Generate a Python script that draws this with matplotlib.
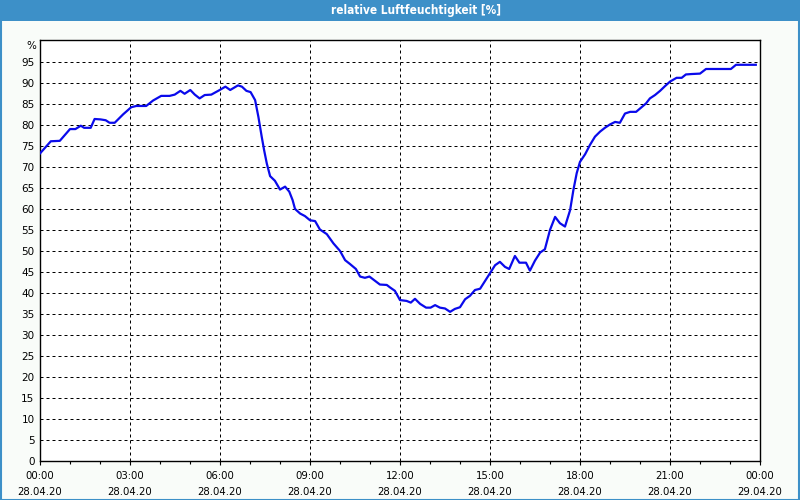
import matplotlib
matplotlib.use("Agg")
import matplotlib.pyplot as plt
from matplotlib.patches import Rectangle
from matplotlib.ticker import MultipleLocator

title = "relative Luftfeuchtigkeit [%]"
unit = "%"

hours = [0.0, 0.36, 0.66, 1.0, 1.18, 1.36, 1.47, 1.69, 1.82, 2.02, 2.19, 2.32, 2.49, 2.77,
         3.04, 3.21, 3.54, 3.77, 4.04, 4.32, 4.49, 4.68, 4.82, 5.01, 5.16, 5.32, 5.49, 5.71,
         5.99, 6.18, 6.34, 6.6, 6.73, 6.88, 7.02, 7.17, 7.28, 7.39, 7.47, 7.56, 7.67, 7.83,
         8.0, 8.17, 8.31, 8.42, 8.5, 8.67, 8.83, 9.0, 9.17, 9.33, 9.56, 9.78, 10.0, 10.17,
         10.33, 10.53, 10.67, 10.83, 10.98, 11.11, 11.33, 11.56, 11.67, 11.83, 12.0, 12.22,
         12.36, 12.5, 12.67, 12.87, 13.02, 13.17, 13.33, 13.5, 13.67, 13.83, 14.0, 14.17,
         14.33, 14.5, 14.67, 14.83, 15.0, 15.17, 15.33, 15.5, 15.64, 15.83, 15.98, 16.2,
         16.33, 16.5, 16.67, 16.83, 17.0, 17.17, 17.33, 17.5, 17.67, 17.78, 17.89, 18.0,
         18.17, 18.33, 18.5, 18.67, 18.83, 19.0, 19.17, 19.33, 19.5, 19.67, 19.87, 20.0,
         20.2, 20.33, 20.5, 20.67, 20.83, 21.0, 21.22, 21.39, 21.53, 21.72, 22.0, 22.2,
         22.5, 23.03, 23.2, 23.86]

humidity = [73.2, 76.1, 76.2, 79.0, 79.0, 79.8, 79.3, 79.3, 81.4, 81.3, 81.1, 80.5, 80.5, 82.5,
            84.2, 84.5, 84.5, 85.8, 86.9, 86.9, 87.2, 88.1, 87.4, 88.3, 87.2, 86.3, 87.1, 87.2,
            88.3, 89.1, 88.3, 89.4, 89.1, 88.1, 87.8, 85.9, 81.9, 77.2, 74.0, 70.8, 67.8, 66.7,
            64.6, 65.3, 64.1, 62.1, 60.0, 58.9, 58.3, 57.3, 57.1, 55.1, 54.0, 51.8, 50.0, 47.8,
            46.9, 45.7, 43.9, 43.6, 43.9, 43.2, 42.0, 41.9, 41.3, 40.5, 38.3, 38.1,
            37.7, 38.6, 37.4, 36.5, 36.5, 37.1, 36.5, 36.3, 35.5, 36.2, 36.6, 38.5,
            39.3, 40.7, 41.0, 42.8, 44.7, 46.6, 47.4, 46.2, 45.7, 48.8, 47.2, 47.2,
            45.3, 47.7, 49.6, 50.4, 55.0, 58.1, 56.6, 55.8, 59.7, 64.5, 68.5, 71.2,
            73.0, 75.2, 77.2, 78.4, 79.3, 80.1, 80.7, 80.5, 82.7, 83.1, 83.1, 83.9,
            85.1, 86.3, 87.1, 88.1, 89.2, 90.3, 91.2, 91.2, 92.0, 92.1, 92.2, 93.3,
            93.3, 93.3, 94.3, 94.3]

tick_hours = [0, 3, 6, 9, 12, 15, 18, 21, 24]
tick_times = ["00:00", "03:00", "06:00", "09:00", "12:00", "15:00", "18:00", "21:00", "00:00"]
tick_dates = ["28.04.20"] * 8 + ["29.04.20"]
y_ticks = list(range(0, 100, 5))

bg = "#f9fcf9"
bar = "#3d90c8"

fig = plt.figure(figsize=(8, 5), dpi=100, facecolor=bg)

# title bar and border
fig.patches.append(Rectangle((0, 1 - 21 / 500), 1, 21 / 500, transform=fig.transFigure,
                             facecolor=bar, edgecolor="none", zorder=0))
fig.patches.append(Rectangle((0.5 / 800, 0.5 / 500), 1 - 1.5 / 800, 1 - 1.5 / 500,
                             transform=fig.transFigure, facecolor="none",
                             edgecolor=bar, linewidth=1.5, zorder=1))
fig.text(416 / 800, 1 - 10.5 / 500, title, color="white", ha="center", va="center",
         fontsize=8.5, fontweight="semibold", fontstretch="condensed",
         family=["DejaVu Sans"])

ax = fig.add_axes([40 / 800, 39 / 500, 720 / 800, 421 / 500])
ax.set_facecolor("white")
ax.plot(hours, humidity, color="#0a0aeb", linewidth=1.6, zorder=3)

ax.set_xlim(0, 24)
ax.set_ylim(0, 100.2)
ax.set_xticks(tick_hours)
ax.set_xticklabels([f"{t}\n{d}" for t, d in zip(tick_times, tick_dates)],
                   fontsize=7.3, linespacing=1.8)
ax.xaxis.set_minor_locator(MultipleLocator(1))
ax.set_yticks(y_ticks)
ax.set_yticklabels([str(v) for v in y_ticks], fontsize=7.5)

ax.tick_params(axis="x", which="major", length=3, width=0.8, pad=4, colors="black")
ax.tick_params(axis="x", which="minor", length=2, width=0.8)
ax.tick_params(axis="y", length=0, pad=4)

ax.grid(True, axis="both", which="major", color="black", linestyle=(0, (3, 3)),
        linewidth=0.72)
ax.set_axisbelow(True)
for s in ax.spines.values():
    s.set_linewidth(1.0)
    s.set_color("black")

fig.text(36 / 800, 1 - 46 / 500, unit, ha="right", va="center", fontsize=7.5)

fig.savefig("out.png", dpi=100, facecolor=bg)
